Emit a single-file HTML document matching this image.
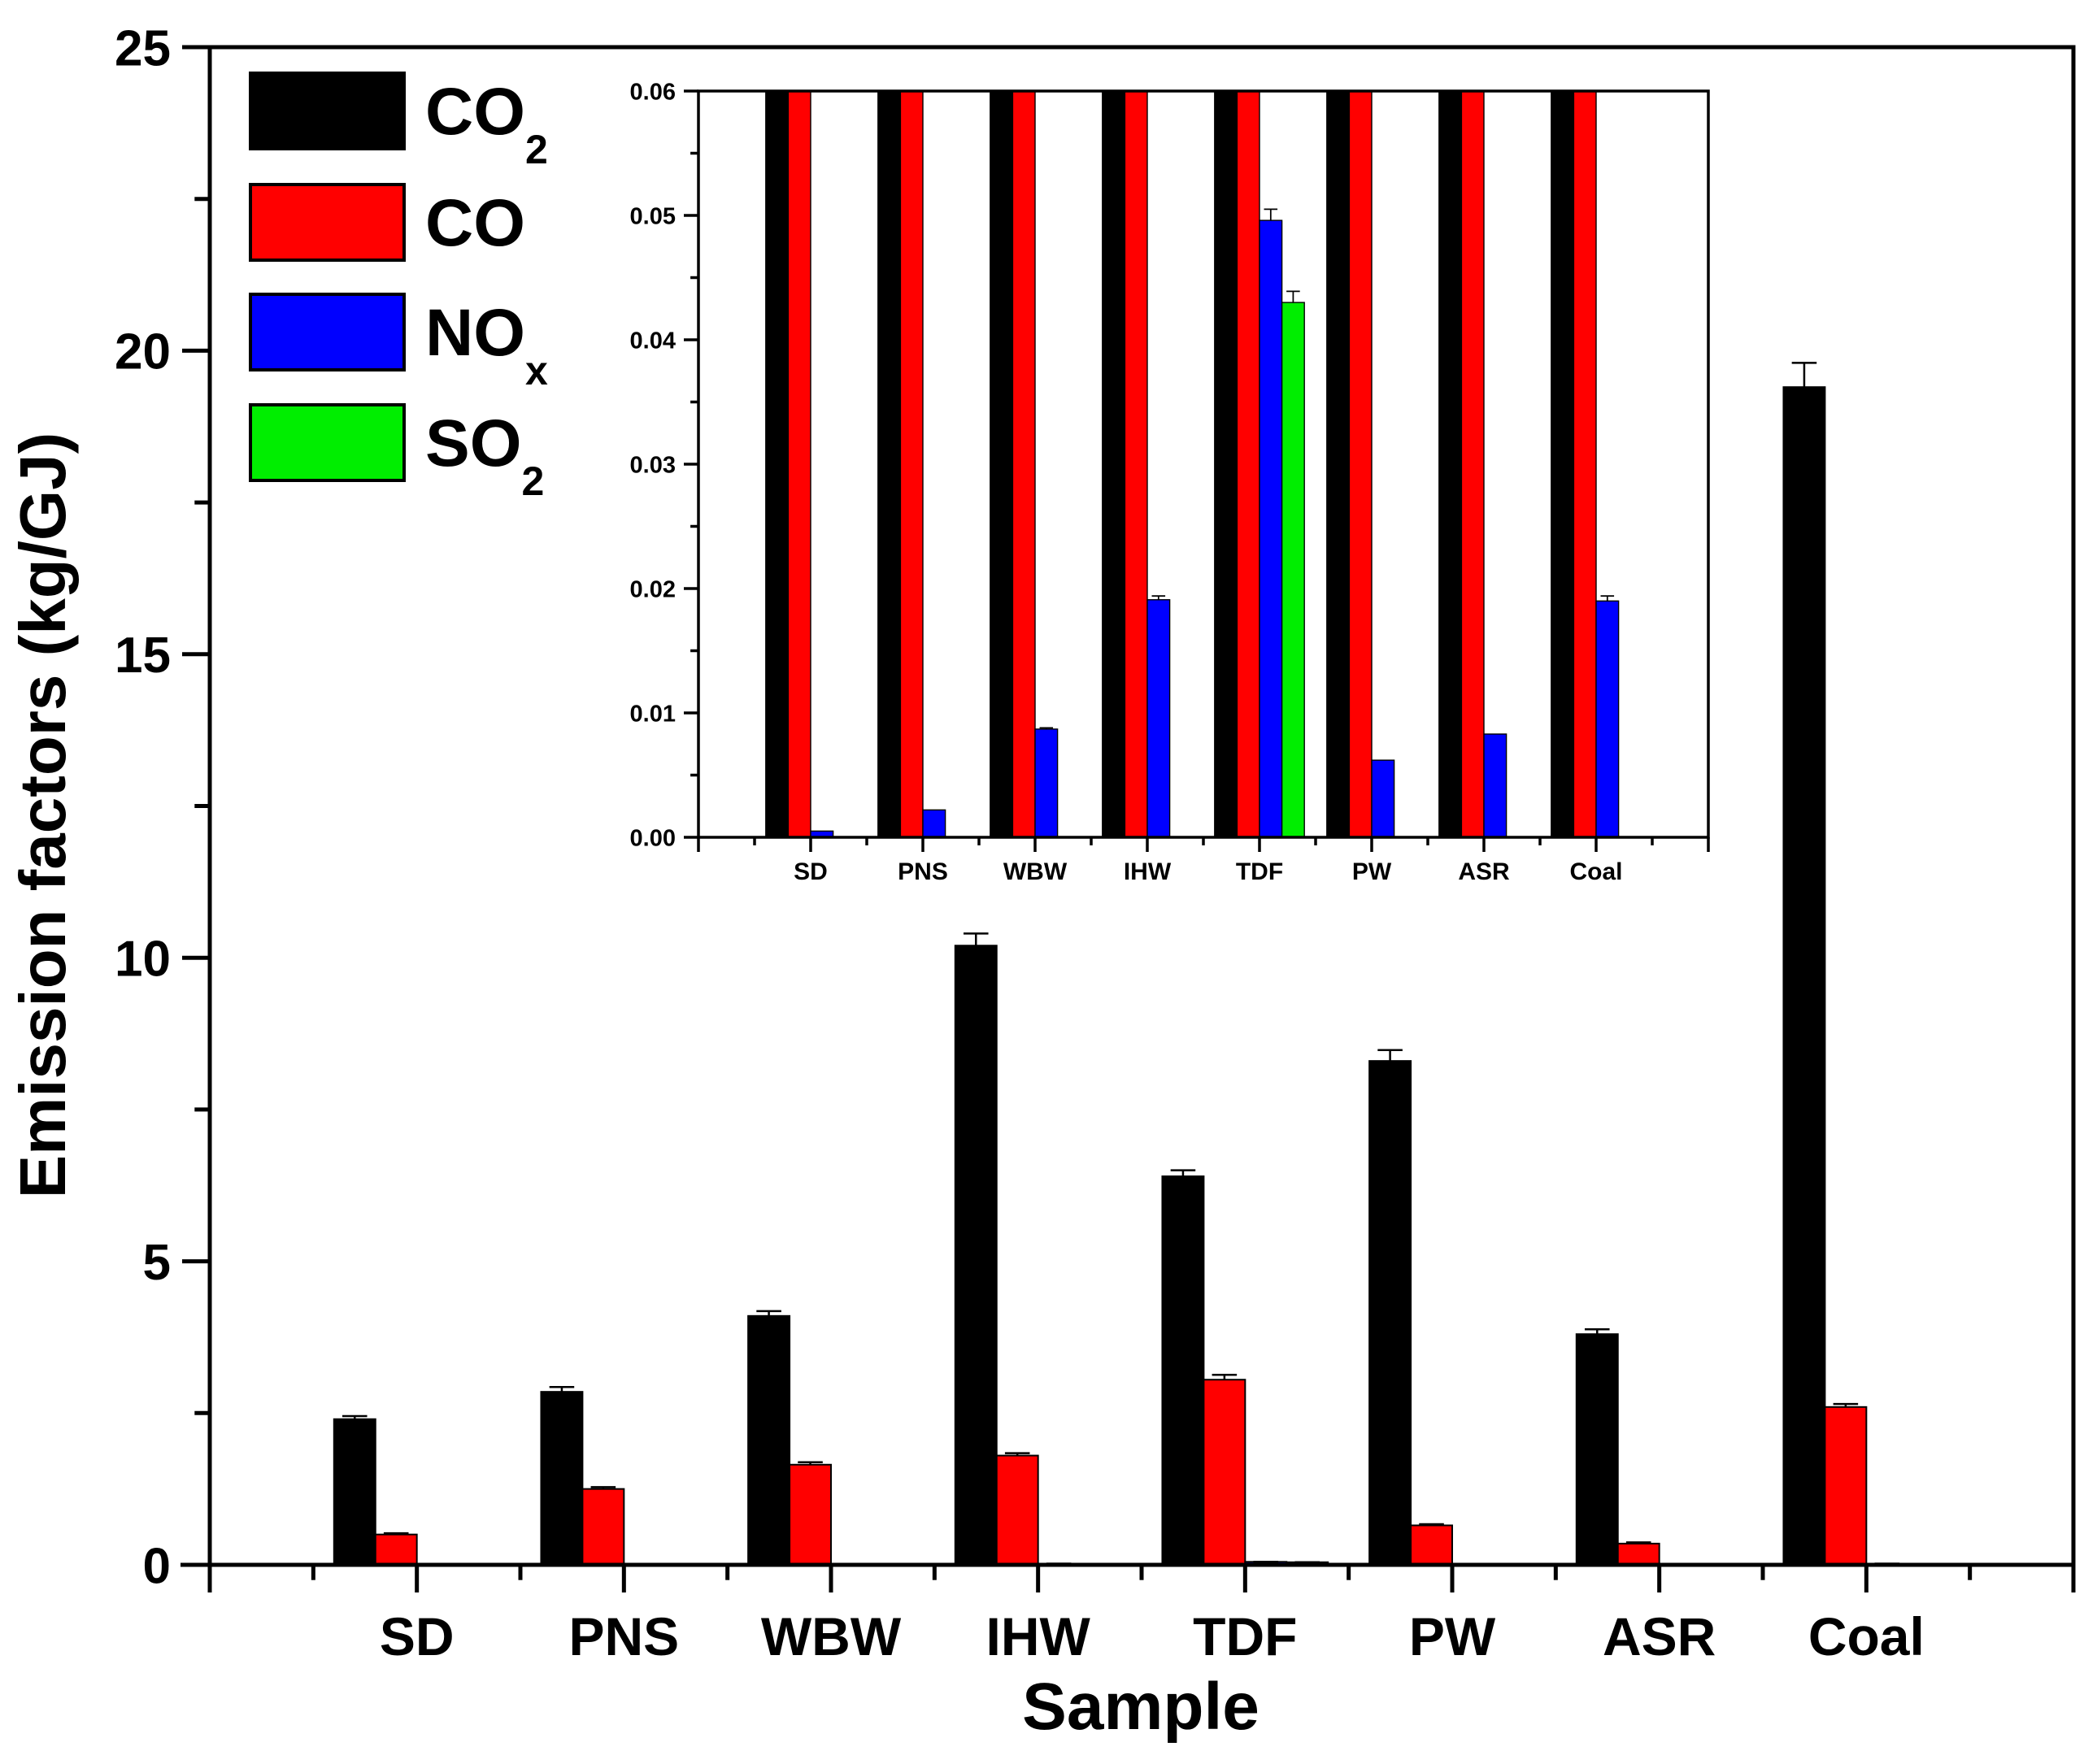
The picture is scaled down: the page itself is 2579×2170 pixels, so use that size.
<!DOCTYPE html>
<html><head><meta charset="utf-8"><style>
html,body{margin:0;padding:0;background:#fff}
svg{display:block}
text{font-family:"Liberation Sans",Arial,sans-serif;font-weight:bold;fill:#000}
</style></head><body>
<svg id="chart" width="2579" height="2170" viewBox="0 0 2579 2170"></svg>
<script>
const categories=["SD","PNS","WBW","IHW","TDF","PW","ASR","Coal"];
const co2=[2.4,2.85,4.1,10.2,6.4,8.3,3.8,19.4];
const co2Err=[0.05,0.08,0.08,0.2,0.1,0.18,0.08,0.4];
const co=[0.5,1.25,1.65,1.8,3.05,0.65,0.35,2.6];
const coErr=[0.02,0.03,0.04,0.04,0.08,0.02,0.02,0.05];
const nox=[0.0005,0.0022,0.0087,0.0191,0.0496,0.0062,0.0083,0.0190];
const noxErr=[0,0,0.0001,0.0003,0.0009,0,0,0.0004];
const so2=[0,0,0,0,0.043,0,0,0];
const so2Err=[0,0,0,0,0.0009,0,0,0];
const mainYTicks=[0,5,10,15,20,25];
const insetYTicks=["0.00","0.01","0.02","0.03","0.04","0.05","0.06"];
const seriesNames=["CO2","CO","NOx","SO2"];
const colors=["#000000","#ff0000","#0000ff","#00ee00"];

const svg=document.getElementById('chart');
const NS="http://www.w3.org/2000/svg";
function mk(tag,attrs,parent){const e=document.createElementNS(NS,tag);for(const k in attrs)e.setAttribute(k,attrs[k]);(parent||svg).appendChild(e);return e;}

function drawPanel(P,series,errs,yticks,yMax,fs,xfs,name){
  const g=mk('g',{});
  
  
  const xs=c=>P.l+(P.r-P.l)*c/9;
  const ys=v=>P.b-(P.b-P.t)*Math.min(v,yMax)/yMax;
  const cw=(P.r-P.l)/9, bw=cw*0.2;
  mk('rect',{x:P.l,y:P.t,width:P.r-P.l,height:P.b-P.t,fill:'#fff'},g);
  series.forEach((arr,s)=>{
    arr.forEach((v,i)=>{
      const x0=xs(i+1)+(s-2)*bw;
      const y=ys(v);
      const r=mk('rect',{x:x0,y:y,width:bw,height:Math.max(P.b-y,0),fill:colors[s],stroke:'#000','stroke-width':P.sw*0.4},g);
      
      
      const e=errs[s][i];
      if(e>0 && v+e<yMax){
        const cx=x0+bw/2, yt=ys(v+e);
        mk('line',{x1:cx,x2:cx,y1:y,y2:yt,stroke:'#000','stroke-width':P.sw*0.5},g);
        mk('line',{x1:cx-bw*0.3,x2:cx+bw*0.3,y1:yt,y2:yt,stroke:'#000','stroke-width':P.sw*0.5},g);
      }
    });
  });
  mk('rect',{x:P.l,y:P.t,width:P.r-P.l,height:P.b-P.t,fill:'none',stroke:'#000','stroke-width':P.sw},g);
  mk('line',{x1:P.l-P.ext,x2:P.l,y1:P.b,y2:P.b,stroke:'#000','stroke-width':P.sw},g);
  yticks.forEach((t,i)=>{
    const v=parseFloat(t);const y=ys(v);
    mk('line',{x1:P.l-P.tl,x2:P.l,y1:y,y2:y,stroke:'#000','stroke-width':P.sw},g);
    const tx=mk('text',{x:P.l-P.tl-P.lg,y:y+fs*0.36,'font-size':fs,'text-anchor':'end'},g);
    tx.textContent=t;
    
    
    if(i<yticks.length-1){
      const ym=ys(v+yMax/(yticks.length-1)/2);
      mk('line',{x1:P.l-P.tl*0.55,x2:P.l,y1:ym,y2:ym,stroke:'#000','stroke-width':P.sw},g);
    }
  });
  for(let k=0;k<=18;k++){
    const x=xs(k/2);const major=k%2===0;
    mk('line',{x1:x,x2:x,y1:P.b,y2:P.b+(major?P.tl:P.tl*0.55),stroke:'#000','stroke-width':P.sw},g);
  }
  categories.forEach((c,i)=>{
    const tx=mk('text',{x:xs(i+1),y:P.xly,'font-size':xfs,'text-anchor':'middle'},g);
    tx.textContent=c;
    
    
  });
}
const M={l:258,r:2550,t:58,b:1925,sw:5,tl:34,lg:14,xly:2036,ext:36};
drawPanel(M,[co2,co,nox,so2],[co2Err,coErr,noxErr,so2Err],mainYTicks.map(String),25,62,66,'main-plot');
const I={l:859,r:2101,t:112,b:1030,sw:3.5,tl:18,lg:10,xly:1082,ext:0};
drawPanel(I,[co2,co,nox,so2],[co2Err,coErr,noxErr,so2Err],insetYTicks,0.06,29,30,'inset-plot');

const legY=[90,227,362,498];
seriesNames.forEach((n,s)=>{
  const r=mk('rect',{x:308,y:legY[s],width:189,height:93,fill:colors[s],stroke:'#000','stroke-width':4});
  
  
  const t=mk('text',{x:523,y:legY[s]+75,'font-size':82});
  
  
  if(n==="CO2"||n==="SO2"){t.textContent=n.slice(0,2);const sp=mk('tspan',{'font-size':50,dy:36},t);sp.textContent='2';}
  else if(n==="NOx"){t.textContent='NO';const sp=mk('tspan',{'font-size':50,dy:36},t);sp.textContent='x';}
  else t.textContent=n;
});
const xt=mk('text',{x:1403,y:2127,'font-size':82,'text-anchor':'middle'});
xt.textContent='Sample';


const yt=mk('text',{x:0,y:0,'font-size':80,'text-anchor':'middle',transform:'translate(80,1003) rotate(-90)'});
yt.textContent='Emission factors (kg/GJ)';


</script>
</body></html>
